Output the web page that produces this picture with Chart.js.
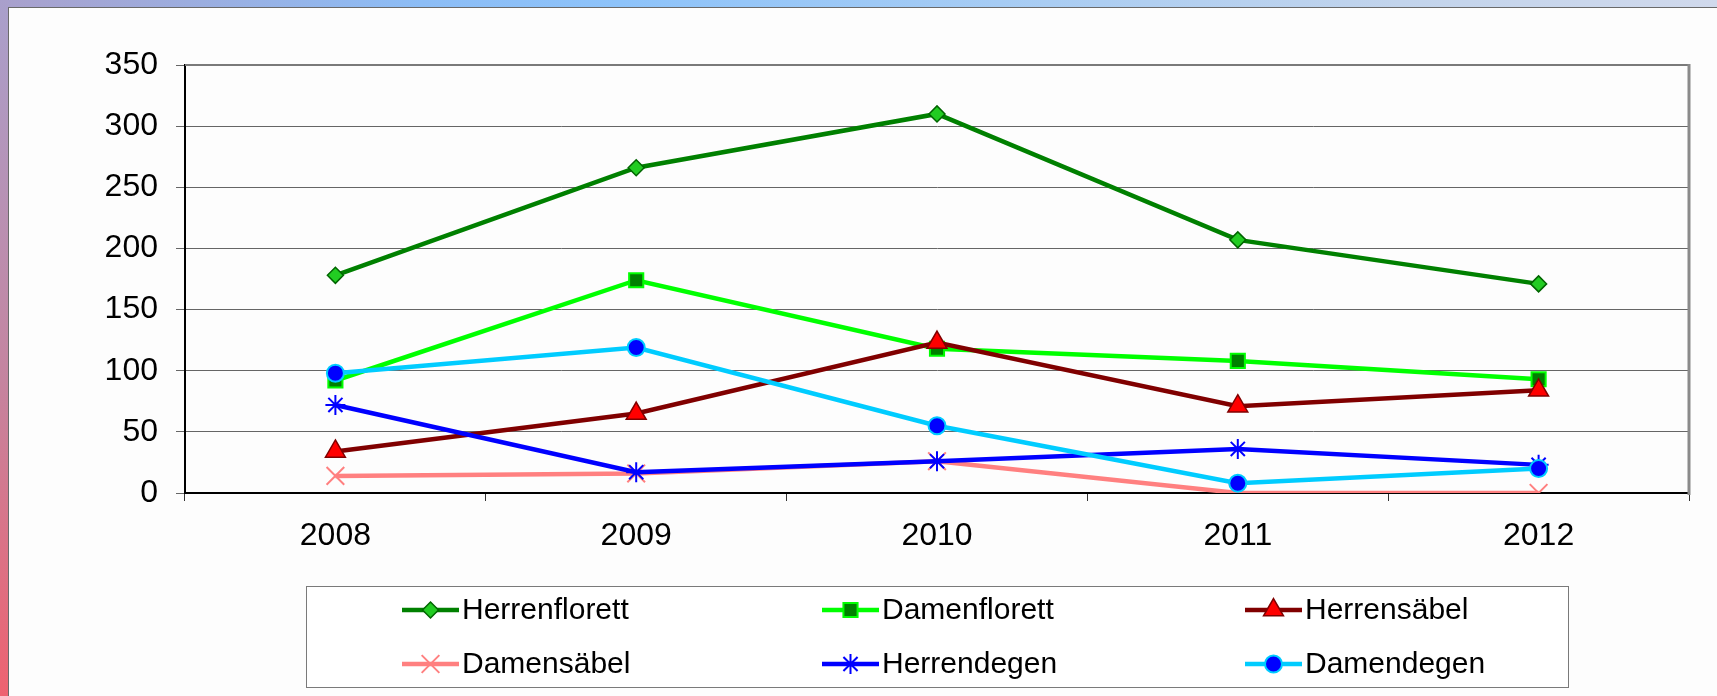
<!DOCTYPE html>
<html><head><meta charset="utf-8">
<script src="https://cdn.jsdelivr.net/npm/chart.js@4.4.0/dist/chart.umd.min.js"></script>
<style>
html,body{margin:0;padding:0;width:1717px;height:696px;overflow:hidden;background:#fdfdfd;}
#topband{position:absolute;left:0;top:0;width:1717px;height:7px;background:linear-gradient(to right,#a9a0cc 0px,#8cbdf6 420px,#8dc3fa 620px,#a6ccf4 1000px,#c2d4ec 1400px,#d0d9ec 1717px);}
#leftband{position:absolute;left:0;top:0;width:8px;height:696px;background:linear-gradient(to bottom,#a9a0cc 0px,#c5849f 380px,#ee6270 696px);}
#panel{position:absolute;left:8px;top:7px;right:0;bottom:0;border-left:1px solid #6a6a6a;border-top:1px solid #6a6a6a;background:#fdfdfd;}
canvas{position:absolute;left:0;top:0;}
</style></head>
<body>
<div id="topband"></div><div id="leftband"></div><div id="panel"></div>
<canvas id="c" width="1717" height="696"></canvas>
<script>
const categories = ['2008','2009','2010','2011','2012'];
const seriesNames = ['Herrenflorett','Damenflorett','Herrensäbel','Damensäbel','Herrendegen','Damendegen'];
const herrenflorett = [178,266,310,207,171];
const damenflorett  = [92,174,118,108,93];
const herrensaebel  = [34,65,123,71,84];
const damensaebel   = [14,16,26,0,0];
const herrendegen   = [72,17,26,36,23];
const damendegen    = [98,119,55,8,20];
const yMin = 0, yMax = 350, yStep = 50;

const FONT = '"Liberation Sans", Arial, Helvetica, sans-serif';

function ds(label, data, line, style, radius, fill, border, bw, order){
  return {label, data, borderColor: line, backgroundColor: line, borderWidth: 4.5, tension: 0,
    pointStyle: style, pointRadius: radius, pointHoverRadius: radius,
    pointBackgroundColor: fill, pointBorderColor: border, pointBorderWidth: bw, order, fill:false};
}
const datasets = [
  ds(seriesNames[0], herrenflorett, '#008000', 'rectRot', 8, '#22cc22', '#006400', 1.5, 6),
  ds(seriesNames[1], damenflorett,  '#00ff00', 'rect', 10, '#008000', '#00ff00', 2, 5),
  ds(seriesNames[2], herrensaebel,  '#800000', 'triangle', 11.5, '#ff0000', '#800000', 1.5, 4),
  ds(seriesNames[3], damensaebel,   '#ff8080', 'crossRot', 12.5, '#ff8080', '#ff8080', 2, 3),
  ds(seriesNames[4], herrendegen,   '#0000ff', 'star', 10, '#0000ff', '#0000ff', 2, 2),
  ds(seriesNames[5], damendegen,    '#00ccff', 'circle', 8.5, '#0000ff', '#00ccff', 2, 1)
];

function drawMarker(ctx, d, x, y){
  const opts = {pointStyle: d.pointStyle, radius: d.pointRadius, borderWidth: d.pointBorderWidth, rotation: 0};
  ctx.save();
  ctx.fillStyle = d.pointBackgroundColor;
  ctx.strokeStyle = d.pointBorderColor;
  ctx.lineWidth = d.pointBorderWidth;
  if (Chart.helpers && Chart.helpers.drawPoint) {
    Chart.helpers.drawPoint(ctx, opts, x, y);
  } else {
    ctx.beginPath(); ctx.arc(x, y, d.pointRadius, 0, Math.PI*2); ctx.fill(); ctx.stroke();
  }
  ctx.restore();
}

const framePlugin = {
  id: 'frame',
  beforeDatasetsDraw(chart){
    const {ctx, chartArea: a} = chart;
    ctx.save();
    ctx.strokeStyle = '#7a7a7a';
    ctx.lineWidth = 2;
    ctx.beginPath(); ctx.moveTo(a.left, a.top); ctx.lineTo(a.right, a.top); ctx.stroke();
    ctx.lineWidth = 3;
    ctx.strokeStyle = '#8a8a8a';
    ctx.beginPath(); ctx.moveTo(a.right, a.top - 1); ctx.lineTo(a.right, a.bottom + 2); ctx.stroke();
    ctx.restore();
  }
};

const legendPlugin = {
  id: 'customLegend',
  afterDraw(chart){
    const {ctx, chartArea: a} = chart;
    const boxW = 1262, boxH = 101, boxY = 586;
    const boxX = Math.round((a.left + a.right)/2 - boxW/2);
    ctx.save();
    ctx.fillStyle = '#ffffff';
    ctx.fillRect(boxX + 0.5, boxY + 0.5, boxW, boxH);
    ctx.strokeStyle = '#7a7a7a'; ctx.lineWidth = 1;
    ctx.strokeRect(boxX + 0.5, boxY + 0.5, boxW, boxH);
    const colX = [96, 516, 939], rowY = [24, 78];
    const ds = chart.data.datasets;
    for (let i = 0; i < ds.length; i++){
      const d = ds[i];
      const x0 = boxX + colX[i % 3], y0 = boxY + rowY[Math.floor(i/3)];
      ctx.strokeStyle = d.borderColor; ctx.lineWidth = d.borderWidth;
      ctx.beginPath(); ctx.moveTo(x0, y0); ctx.lineTo(x0 + 57, y0); ctx.stroke();
      drawMarker(ctx, d, x0 + 28.5, y0);
      ctx.fillStyle = '#000';
      ctx.font = '30px ' + FONT;
      ctx.textBaseline = 'middle'; ctx.textAlign = 'left';
      ctx.fillText(d.label, x0 + 60, y0 + 1);
    }
    ctx.restore();
  }
};

new Chart(document.getElementById('c'), {
  type: 'line',
  data: { labels: categories, datasets },
  options: {
    responsive: false, animation: false, devicePixelRatio: 1,
    layout: { padding: { left: 0, top: 65, right: 28, bottom: 143 } },
    plugins: { legend: { display: false }, tooltip: { enabled: false } },
    scales: {
      x: {
        type: 'category', offset: true,
        grid: { display: true, offset: true, drawOnChartArea: false, drawTicks: true, tickLength: 8, color: '#333', lineWidth: 1 },
        border: { display: true, color: '#000', width: 2 },
        ticks: { color: '#000', font: { family: FONT, size: 32 }, padding: 16, maxRotation: 0, autoSkip: false },
        afterFit(s){ s.height = 60; }
      },
      y: {
        min: yMin, max: yMax,
        grid: { color: '#666666', lineWidth: 1, drawTicks: true, tickLength: 9 },
        border: { display: true, color: '#000', width: 2 },
        ticks: { stepSize: yStep, color: '#000', font: { family: FONT, size: 32 }, padding: 18 },
        afterFit(s){ s.width = 185; }
      }
    }
  },
  plugins: [framePlugin, legendPlugin]
});
</script>
</body></html>
